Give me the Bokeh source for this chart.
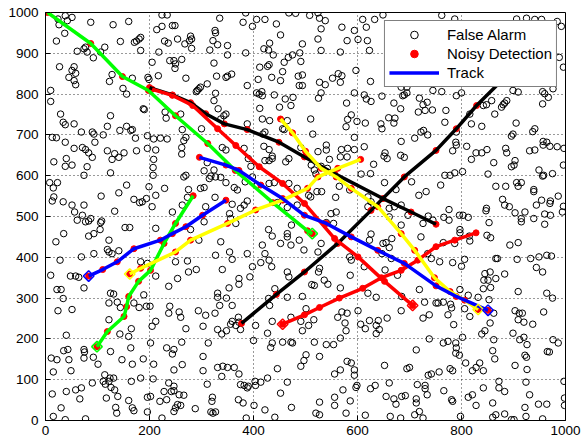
from bokeh.plotting import figure
from bokeh.models import Range1d, FixedTicker, Legend, LegendItem
from bokeh.embed import file_html
from bokeh.resources import INLINE
import math

x_ticks = [0, 200, 400, 600, 800, 1000]
y_ticks = [0, 100, 200, 300, 400, 500, 600, 700, 800, 900, 1000]

# False alarms (x, y)
false_alarms = [
    (24,984),(38,992),(51,988),(42,980),(26,970),(87,976),(130,970),(160,978),(224,994),(234,994),(244,968),(214,958),(224,966),
    (37,949),(21,930),(144,929),(183,939),(180,935),(175,930),(171,927),(183,907),(61,905),(77,915),(74,911),(80,903),(92,889),
    (114,915),(106,903),(229,930),(236,925),(239,882),(218,903),(205,878),(27,867),(55,867),(51,858),(58,851),(45,841),(55,833),
    (58,823),(128,848),(123,831),(149,814),(156,800),(167,839),(197,841),(199,836),(217,845),(10,809),(10,782),(188,764),(190,762),
    (230,756),(232,741),(29,751),(34,731),(38,725),(55,727),(125,747),(119,721),(156,721),(167,713),(164,711),(143,711),(69,707),
    (90,707),(93,702),(111,700),(173,692),(196,698),(208,690),(221,692),(234,690),(13,694),(21,693),(38,682),(95,682),
    (249,968),(385,999),(335,986),(380,976),(398,966),(406,983),(422,983),(444,972),(468,999),(481,998),(452,945),(326,956),
    (327,950),(279,942),(281,935),(277,931),(254,935),(268,923),(281,912),(322,931),(331,921),(316,908),(350,919),(350,896),
    (385,901),(431,925),(420,911),(429,908),(438,896),(494,923),(489,901),(475,896),(467,890),(459,878),(491,880),(247,882),
    (250,874),(262,885),(249,863),(324,876),(270,839),(329,844),(347,841),(350,844),(358,849),(388,821),(412,866),(430,872),
    (427,868),(456,855),(435,841),(452,833),(409,836),(494,847),(486,844),(488,821),(494,821),(292,809),(295,813),(290,806),
    (311,825),(298,817),(327,802),(324,784),(406,803),(416,806),(411,800),(417,796),(440,798),(461,788),(476,792),(472,772),
    (450,768),(412,765),(332,764),(347,751),(343,747),(337,739),(388,727),(417,739),(431,735),(465,735),(456,715),(459,713),
    (422,707),(418,702),(260,751),(263,713),(270,694),(266,686),(300,715),
    (508,993),(524,999),(527,986),(538,980),(530,960),(570,964),(610,983),(617,964),(594,956),(633,983),(649,994),(524,935),
    (580,931),(601,934),(619,931),(530,907),(567,903),(623,907),(597,858),(552,839),(563,850),(570,845),(567,829),(527,829),
    (538,823),(625,831),(530,803),(525,790),(594,803),(613,798),(617,788),(626,782),(647,795),(579,778),(510,739),(588,749),
    (581,738),(599,733),(615,729),(578,720),(645,727),(647,715),(660,742),(670,729),(672,741),(670,778),(683,764),(687,796),
    (690,798),(695,803),(719,790),(726,774),(734,780),(717,756),(730,760),(744,761),(745,809),(684,817),(695,817),(722,707),
    (735,700),(727,711),(710,692),(684,684),(594,694),(514,702),
    (762,993),(787,984),(906,984),(925,986),(941,983),(954,983),(984,978),(992,966),(988,890),(996,866),(762,806),(790,796),
    (800,803),(770,760),(768,731),(816,751),(842,772),(848,774),(858,784),(864,751),(877,768),(880,774),(883,778),(887,784),
    (905,729),(899,809),(909,805),(956,806),(960,801),(967,792),(956,776),(976,813),(819,727),(839,721),(790,707),(937,708),
    (941,715),(896,697),(899,702),(957,684),(964,682),(789,682),
    (55,667),(71,669),(77,664),(83,656),(90,645),(16,634),(40,642),(38,623),(51,626),(74,601),(80,622),(119,661),(133,654),
    (128,640),(141,645),(151,656),(175,661),(196,667),(212,663),(208,640),(207,620),(207,601),(125,607),(156,577),(199,573),
    (229,569),(212,552),(8,583),(15,570),(23,583),(16,548),(13,538),(34,536),(51,528),(74,528),(56,511),(71,503),(61,491),
    (77,487),(83,489),(87,495),(106,485),(108,489),(105,468),(141,558),(107,550),(170,542),(181,534),(186,536),(194,544),
    (205,524),(133,513),(153,473),(162,473),(212,471),(244,511),(35,458),(93,458),(83,452),(20,438),(122,442),(141,416),
    (119,419),(122,413),(128,409),(93,409),(69,401),(28,393),(10,356),(48,354),(58,354),(64,351),(183,389),(196,385),(212,354),
    (262,669),(262,653),(340,669),(347,663),(382,667),(420,672),(430,664),(436,648),(436,642),(491,669),(468,642),(462,634),
    (390,642),(395,623),(422,637),(430,637),(311,632),(324,614),(305,612),(318,599),(315,593),(327,597),(337,596),(347,583),
    (363,571),(369,565),(384,585),(398,597),(407,577),(430,581),(440,583),(468,581),(484,569),(270,601),(266,597),(275,566),
    (273,547),(298,569),(305,571),(326,547),(308,524),(388,538),(382,528),(375,520),(359,530),(263,528),(305,487),(279,468),
    (295,442),(337,438),(354,507),(356,495),(366,483),(446,534),(465,522),(484,528),(473,479),(465,458),(465,450),(429,468),
    (436,452),(452,434),(472,430),(488,442),(497,418),(417,430),(422,409),(430,393),(435,377),(414,387),(398,377),(393,352),
    (372,348),(340,370),(327,405),(354,413),(359,395),(388,409),(250,389),(273,391),(275,364),(290,370),(254,348),(465,364),
    (468,352),
    (540,675),(540,663),(524,659),(569,664),(581,667),(594,664),(613,671),(653,656),(651,648),(657,642),(683,650),(690,645),
    (546,640),(567,646),(580,646),(530,623),(542,618),(511,626),(517,614),(520,604),(631,628),(607,604),(625,605),(565,574),
    (506,552),(510,548),(522,561),(531,561),(558,547),(585,565),(652,583),(674,566),(704,585),(718,552),(732,561),(620,548),
    (626,536),(620,524),(661,520),(671,524),(684,528),(697,503),(661,499),(549,507),(559,511),(554,483),(540,485),(684,479),
    (726,483),(736,501),(745,491),(722,450),(626,457),(623,442),(649,434),(655,436),(666,446),(661,424),(647,409),(665,397),
    (530,434),(524,413),(585,401),(588,393),(527,373),(525,364),(613,377),(653,369),(677,356),(586,356),(536,344),(735,409),
    (742,397),
    (783,661),(790,675),(810,672),(828,656),(839,656),(849,664),(885,667),(887,656),(931,661),(941,663),(957,675),(970,672),
    (984,671),(997,667),(819,640),(862,632),(903,637),(896,622),(901,626),(996,626),(802,610),(768,601),(778,601),(787,607),
    (851,604),(949,614),(958,601),(956,599),(975,605),(760,577),(866,574),(885,574),(906,583),(909,574),(915,583),(939,566),
    (939,561),(986,550),(879,542),(883,528),(892,524),(944,528),(954,540),(970,532),(971,538),(996,525),(994,511),(903,509),
    (922,511),(848,520),(847,514),(766,498),(776,517),(776,491),(796,503),(803,503),(813,498),(853,485),(915,495),(915,487),
    (939,495),(960,506),(971,503),(960,481),(797,468),(797,460),(815,452),(849,454),(856,448),(816,440),(765,436),(787,434),
    (893,430),(909,436),(758,389),(783,387),(800,378),(806,395),(866,397),(869,397),(907,395),(933,397),(949,401),(964,405),
    (973,403),(944,375),(956,364),(845,360),(855,364),(843,344),(851,344),(866,348),(883,359),
    (22,321),(30,321),(74,325),(34,299),(24,269),(51,272),(125,312),(131,310),(122,288),(138,290),(144,277),(170,288),
    (180,277),(194,280),(201,280),(189,308),(237,329),(239,280),(237,263),(212,243),(205,231),(165,225),(122,247),(143,212),
    (160,206),(40,209),(35,171),(43,174),(74,174),(75,168),(125,169),(147,149),(164,178),(167,138),(202,190),(233,178),
    (244,163),(11,153),(22,149),(45,149),(74,153),(92,155),(101,138),(188,151),(208,138),(15,119),(49,122),(114,112),
    (124,104),(131,104),(122,96),(115,89),(126,81),(133,75),(111,96),(90,92),(165,96),(183,104),(207,102),(237,92),(242,71),
    (228,71),(58,75),(69,80),(40,71),(13,65),(66,53),(117,55),(139,59),(160,49),(196,57),(202,59),(220,47),(233,51),(30,31),
    (135,32),(167,31),(170,24),(137,18),(196,21),(15,10),(77,4),(38,2),(224,6),
    (353,325),(372,334),(331,312),(331,302),(348,300),(335,282),(359,282),(294,269),(308,258),(257,266),(260,253),(270,225),
    (326,263),(303,231),(331,223),(339,212),(348,220),(356,236),(359,243),(366,233),(372,241),(371,253),(375,223),(404,233),
    (429,299),(431,282),(441,323),(465,302),(494,304),(472,253),(491,243),(494,220),(436,243),(427,214),(400,196),(436,190),
    (433,179),(456,192),(472,192),(475,190),(262,192),(313,190),(247,174),(303,157),(263,137),(303,122),(331,130),(341,133),
    (350,130),(363,130),(372,114),(339,108),(247,124),(446,127),(497,147),(491,133),(311,89),(375,88),(382,86),(388,80),
    (390,84),(403,96),(414,94),(404,86),(427,104),(465,94),(452,67),(247,84),(247,73),(257,63),(266,62),(321,57),(320,47),
    (371,51),(380,43),(401,37),(254,39),(260,37),(250,31),(247,22),(288,29),(318,21),(322,18),(327,21),(422,26),(473,32),
    (386,6),(441,8),
    (512,333),(517,331),(543,334),(567,325),(620,312),(636,302),(685,304),(719,321),(729,290),(751,288),(738,259),(726,251),
    (684,269),(501,274),(516,247),(506,233),(562,253),(570,266),(580,263),(576,239),(601,269),(606,236),(578,220),(615,225),
    (623,245),(636,233),(640,245),(642,223),(636,213),(657,251),(567,202),(517,192),(540,186),(554,186),(738,200),(713,173),
    (501,161),(527,157),(580,145),(588,141),(567,124),(594,124),(594,111),(652,135),(556,114),(695,127),(700,130),(736,111),
    (742,114),(661,92),(572,75),(597,81),(599,86),(625,78),(634,86),(655,59),(670,53),(674,40),(685,59),(692,61),(713,53),
    (713,43),(715,88),(730,86),(734,63),(730,78),(527,45),(556,57),(556,37),(586,48),(520,18),(527,14),(578,18),(615,13),
    (663,10),(683,6),(719,22),(710,14),(726,6),
    (755,288),(765,290),(779,285),(781,276),(774,259),(785,235),(797,321),(813,307),(806,274),(816,255),(832,302),(842,323),
    (856,326),(853,296),(862,263),(855,239),(845,220),(839,212),(909,316),(964,312),(975,300),(903,269),(911,263),(917,263),
    (909,247),(920,241),(937,236),(958,266),(899,214),(912,198),(920,204),(926,186),(765,190),(774,194),(789,190),(790,178),
    (789,165),(796,160),(802,204),(862,198),(860,171),(864,151),(976,198),(986,190),(965,169),(969,168),(922,160),(925,155),
    (926,125),(903,135),(808,141),(778,127),(783,122),(835,141),(821,122),(828,130),(842,122),(872,96),(872,80),(883,71),
    (842,80),(924,94),(931,63),(997,96),(766,73),(781,51),(783,47),(813,57),(821,63),(828,37),(860,43),(922,32),(948,40),
    (964,40),(998,55),(998,37),(798,10),(866,14),(860,8),(883,16),(896,2),(901,2),(924,10),(956,4),(757,119),
]

# Tracks: noisy detections from start to end
track_green1 = [(513,458),(504,465),(437,534),(365,613),(312,679),(250,747),(198,809),(148,843),(87,924),(4,1000)]
track_green2 = [(99,181),(119,218),(151,255),(156,279),(160,304),(179,341),(202,368),(228,434),(250,483),(284,551)]
track_black1 = [(751,481),(703,511),(649,544),(556,605),(498,646),(449,682),(388,713),(344,727),(308,752),(279,779),(244,798),(200,816)]
track_black2 = [(377,238),(444,309),(498,364),(562,434),(626,515),(690,597),(751,662),(790,715),(829,772),(874,829),(940,900)]
track_red1 = [(706,282),(652,341),(601,401),(556,446),(498,532),(456,581),(411,622),(366,674),(331,715),(283,772),(244,797),(205,812)]
track_red2 = [(456,236),(498,259),(527,277),(565,300),(610,324),(646,350),(684,368),(716,393),(751,426),(787,442),(828,460)]
track_yellow1 = [(162,359),(183,373),(250,413),(279,442),(350,483),(404,516),(456,540),(504,569),(524,597),(562,618),(606,640)]
track_yellow2 = [(832,272),(806,295),(778,316),(748,350),(710,417),(684,458),(639,524),(588,569),(559,597),(530,618),(500,660),(475,705),(452,739)]
track_blue1 = [(83,354),(110,370),(138,389),(170,421),(221,442),(244,458),(270,475),(302,503),(347,540)]
track_blue2 = [(851,270),(790,304),(751,330),(690,385),(639,417),(588,450),(540,483),(498,503),(456,544),(414,577),(372,613),(347,626),(296,645)]

tracks = [
    ("#00ff00", track_green1, True), ("#00ff00", track_green2, True),
    ("#000000", track_black1, False), ("#000000", track_black2, False),
    ("#ff0000", track_red1, True), ("#ff0000", track_red2, True),
    ("#ffff00", track_yellow1, True), ("#ffff00", track_yellow2, True),
    ("#0000ff", track_blue1, True), ("#0000ff", track_blue2, True),
]

FONT = "Liberation Sans"

p = figure(width=584, height=443, x_range=Range1d(0, 1000), y_range=Range1d(0, 1000),
           output_backend="svg", toolbar_location=None,
           min_border_left=45, min_border_right=19, min_border_top=12, min_border_bottom=23)
p.background_fill_color = "white"
p.border_fill_color = "white"
p.outline_line_color = "black"
p.outline_line_width = 1

for ax, ticks in ((p.xaxis, x_ticks), (p.yaxis, y_ticks)):
    ax.ticker = FixedTicker(ticks=ticks)
    ax.major_tick_in = 5
    ax.major_tick_out = 0
    ax.minor_tick_line_color = None
    ax.axis_line_color = "black"
    ax.major_tick_line_color = "black"
    ax.major_label_text_font = FONT
    ax.major_label_text_font_size = "13.5px"
    ax.major_label_text_color = "black"
p.xaxis.major_label_standoff = 5
p.yaxis.major_label_standoff = 7

for g in (p.xgrid, p.ygrid):
    g.grid_line_color = "black"
    g.grid_line_dash = "1 3"
    g.grid_line_alpha = 0.8
    g.grid_line_width = 1
p.ygrid.ticker = FixedTicker(ticks=y_ticks)
p.xgrid.ticker = FixedTicker(ticks=x_ticks)

fa_x = [q[0] for q in false_alarms]
fa_y = [q[1] for q in false_alarms]
r_fa = p.scatter(fa_x, fa_y, marker="circle", size=6.5, fill_color=None, line_color="black", line_width=1)

r_det = None
for col, pts, _ in tracks:
    xs = [q[0] for q in pts]
    ys = [q[1] for q in pts]
    r = p.scatter(xs, ys, marker="circle", size=6, fill_color="#ff0000", line_color="#ff0000")
    if r_det is None:
        r_det = r

r_track = None
for col, pts, _ in tracks:
    xs = [q[0] for q in pts]
    ys = [q[1] for q in pts]
    r = p.line(xs, ys, line_color=col, line_width=3.5)
    if col == "#0000ff" and r_track is None:
        r_track = r

for col, pts, has_start in tracks:
    if has_start:
        p.scatter([pts[0][0]], [pts[0][1]], marker="square", angle=math.pi / 4, size=7.5,
                  fill_color=None, line_color=col, line_width=1.5)

legend = Legend(items=[
    LegendItem(label="False Alarm", renderers=[r_fa]),
    LegendItem(label="Noisy Detection", renderers=[r_det]),
    LegendItem(label="Track", renderers=[r_track]),
], location="top_right")
legend.label_text_font = FONT
legend.label_text_font_size = "15px"
legend.label_text_color = "black"
legend.glyph_width = 50
legend.glyph_height = 19
legend.label_height = 19
legend.spacing = 0
legend.padding = 4
legend.margin = 8
legend.label_standoff = 8
legend.border_line_color = "black"
legend.border_line_width = 1
legend.background_fill_color = "white"
legend.background_fill_alpha = 1
p.add_layout(legend)

open("out.html", "w").write(file_html(p, INLINE))
